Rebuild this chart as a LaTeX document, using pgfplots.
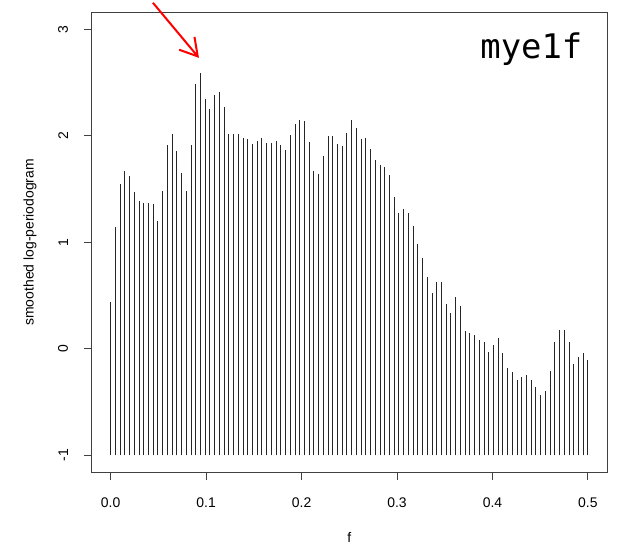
\documentclass[border=0pt]{standalone}
\usepackage{fontspec}
\setmainfont{Liberation Sans}
\newfontfamily\tagfont{DejaVu Sans Mono}
\usepackage{pgfplots}
\usepackage{pgfplotstable}
\pgfplotsset{compat=1.18}
\usetikzlibrary{arrows.meta}

% smoothed log-periodogram of mye1f, frequencies k/202
\pgfplotstableread{
f y
0.00000 0.44
0.00495 1.14
0.00990 1.55
0.01485 1.67
0.01980 1.62
0.02475 1.47
0.02970 1.39
0.03465 1.37
0.03960 1.37
0.04455 1.36
0.04950 1.20
0.05446 1.48
0.05941 1.91
0.06436 2.02
0.06931 1.86
0.07426 1.65
0.07921 1.48
0.08416 1.91
0.08911 2.49
0.09406 2.59
0.09901 2.35
0.10396 2.25
0.10891 2.38
0.11386 2.41
0.11881 2.27
0.12376 2.02
0.12871 2.02
0.13366 2.02
0.13861 1.98
0.14356 1.97
0.14851 1.92
0.15347 1.95
0.15842 1.98
0.16337 1.93
0.16832 1.93
0.17327 1.95
0.17822 1.91
0.18317 1.87
0.18812 2.01
0.19307 2.11
0.19802 2.15
0.20297 2.14
0.20792 1.94
0.21287 1.67
0.21782 1.64
0.22277 1.81
0.22772 2.00
0.23267 2.00
0.23762 1.92
0.24257 1.90
0.24752 2.03
0.25248 2.15
0.25743 2.07
0.26238 1.97
0.26733 1.98
0.27228 1.88
0.27723 1.77
0.28218 1.73
0.28713 1.71
0.29208 1.63
0.29703 1.43
0.30198 1.28
0.30693 1.31
0.31188 1.28
0.31683 1.15
0.32178 0.98
0.32673 0.85
0.33168 0.67
0.33663 0.52
0.34158 0.63
0.34653 0.63
0.35149 0.42
0.35644 0.34
0.36139 0.49
0.36634 0.40
0.37129 0.17
0.37624 0.15
0.38119 0.13
0.38614 0.08
0.39109 0.06
0.39604 -0.03
0.40099 0.04
0.40594 0.10
0.41089 -0.04
0.41584 -0.18
0.42079 -0.22
0.42574 -0.29
0.43069 -0.26
0.43564 -0.25
0.44059 -0.29
0.44554 -0.36
0.45050 -0.43
0.45545 -0.40
0.46040 -0.21
0.46535 0.06
0.47030 0.18
0.47525 0.18
0.48020 0.06
0.48515 -0.14
0.49010 -0.08
0.49505 -0.04
0.50000 -0.10
}\spec

\begin{document}
\begin{tikzpicture}
\useasboundingbox (-91.6bp,-73.6bp) rectangle (527.4bp,472.4bp);
\begin{axis}[
  at={(0,0)}, anchor=south west,
  scale only axis,
  width=515.4bp, height=460.1bp,
  xmin=-0.02, xmax=0.52,
  ymin=-1.16, ymax=3.16,
  % comb lines hang from y = -1
  y coord trafo/.code={\pgfmathparse{#1+1}},
  y coord inv trafo/.code={\pgfmathparse{#1-1}},
  xtick={0,0.1,0.2,0.3,0.4,0.5},
  xticklabels={0.0,0.1,0.2,0.3,0.4,0.5},
  ytick={-1,0,1,2,3},
  yticklabels={-1,0,1,2,3},
  xtick pos=bottom, ytick pos=left,
  tick align=outside,
  major tick length=8bp,
  axis line style={black!75, line width=0.9bp},
  tick style={black!75, line width=0.9bp},
  ticklabel style={font=\fontsize{14}{16}\selectfont},
  xticklabel shift=14bp,
  yticklabel style={rotate=90, anchor=south},
  yticklabel shift=12bp,
  xlabel={f},
  ylabel={smoothed log-periodogram},
  label style={font=\fontsize{14}{16}\selectfont},
  xlabel style={at={(axis description cs:0.5,-0.1404)}, anchor=center},
  ylabel style={at={(axis description cs:-0.1195,0.5)}, anchor=center, rotate=0},
  clip=false,
]
\addplot[ycomb, black!85, line width=0.9bp, mark=none] table[x=f, y=y] {\spec};
\draw[red, line width=2bp, -{Straight Barb[length=17bp, width=20bp]}]
  (axis cs:0.0443,3.249) -- (axis cs:0.0925,2.732);
\node[anchor=base, inner sep=0pt, font=\tagfont\fontsize{34}{36}\selectfont]
  at (axis cs:0.4408,2.723) {mye1f};
\end{axis}
\end{tikzpicture}
\end{document}
